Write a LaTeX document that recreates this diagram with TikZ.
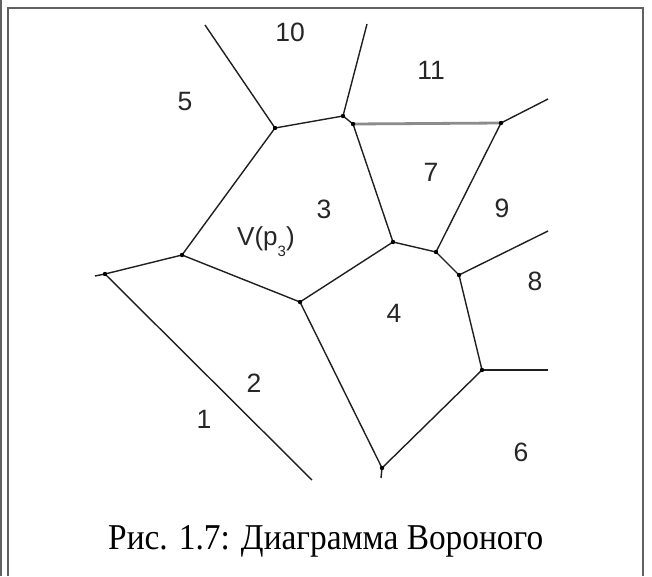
\documentclass[tikz,border=0pt]{standalone}
\usepackage{fontspec}
\newfontfamily\capfont{Liberation Serif}
\newfontfamily\lblfont{Liberation Sans}
\begin{document}
\begin{tikzpicture}[x=1pt,y=-1pt,
  edge/.style={draw=black!88,line width=1.4pt},
  thickedge/.style={draw=black!45,line width=2.8pt},
  vdot/.style={fill=black},
  region/.style={font=\lblfont\fontsize{26.5pt}{26.5pt}\selectfont,text=black!85,inner sep=0pt},
  framel/.style={draw=black!62,line width=1.6pt}]
\useasboundingbox (0,0) rectangle (652,576);
\fill[white] (0,0) rectangle (652,576);
% frame
\draw[framel] (1,0) -- (1,576);
\draw[framel] (8,576) -- (8,8) -- (643,8) -- (643,576);
% vertices
\coordinate (A) at (105,274);
\coordinate (A0) at (95,276);
\coordinate (A1) at (312,480);
\coordinate (B) at (182,255);
\coordinate (C) at (275,128);
\coordinate (C0) at (205,25);
\coordinate (D) at (343,116);
\coordinate (D0) at (367,24);
\coordinate (D2) at (353,124);
\coordinate (E) at (501,123);
\coordinate (E0) at (548,99);
\coordinate (F) at (393,242);
\coordinate (G) at (436,252);
\coordinate (H) at (459,275);
\coordinate (H0) at (548,231);
\coordinate (I) at (300,302);
\coordinate (J) at (482,370);
\coordinate (J0) at (548,370);
\coordinate (K) at (382,468);
\coordinate (K0) at (381,478);
% edges
\draw[thickedge] (D2) -- (E);
\draw[edge] (A0) -- (A) -- (B) -- (C) -- (D) -- (D2) -- (F) -- (G) -- (H) -- (J) -- (K) -- (I) -- (B);
\draw[edge] (A) -- (A1);
\draw[edge] (C) -- (C0);
\draw[edge] (D) -- (D0);
\draw[edge] (E) -- (E0);
\draw[edge] (E) -- (G);
\draw[edge] (F) -- (I);
\draw[edge] (H) -- (H0);
\draw[edge] (J) -- (J0);
\draw[edge] (K) -- (K0);
\foreach \p in {A,B,C,D,D2,E,F,G,H,I,J,K} \fill[vdot] (\p) circle (2.2pt);
% labels
\node[region] (l10) at (290,32) {10};
\node[region] (l11) at (431,70) {11};
\node[region] (l5) at (185,102) {5};
\node[region] (l7) at (431,172) {7};
\node[region] (l3) at (324,209) {3};
\node[region] (l9) at (502,208) {9};
\node[region] (l8) at (535,281) {8};
\node[region] (l4) at (394,313) {4};
\node[region] (l2) at (254,383) {2};
\node[region] (l1) at (204,419) {1};
\node[region] (l6) at (521,452) {6};
\node[anchor=base west,inner sep=0pt,text=black!85,font=\lblfont\fontsize{26pt}{26pt}\selectfont] (vp) at (237,245) {V(p\raisebox{-11pt}{\fontsize{15pt}{15pt}\selectfont 3})};
% caption
\node[anchor=base west,inner sep=0pt] (cap) at (108,549) {\resizebox{435pt}{24pt}{\capfont Рис. 1.7: Диаграмма Вороного}};
\end{tikzpicture}
\end{document}
